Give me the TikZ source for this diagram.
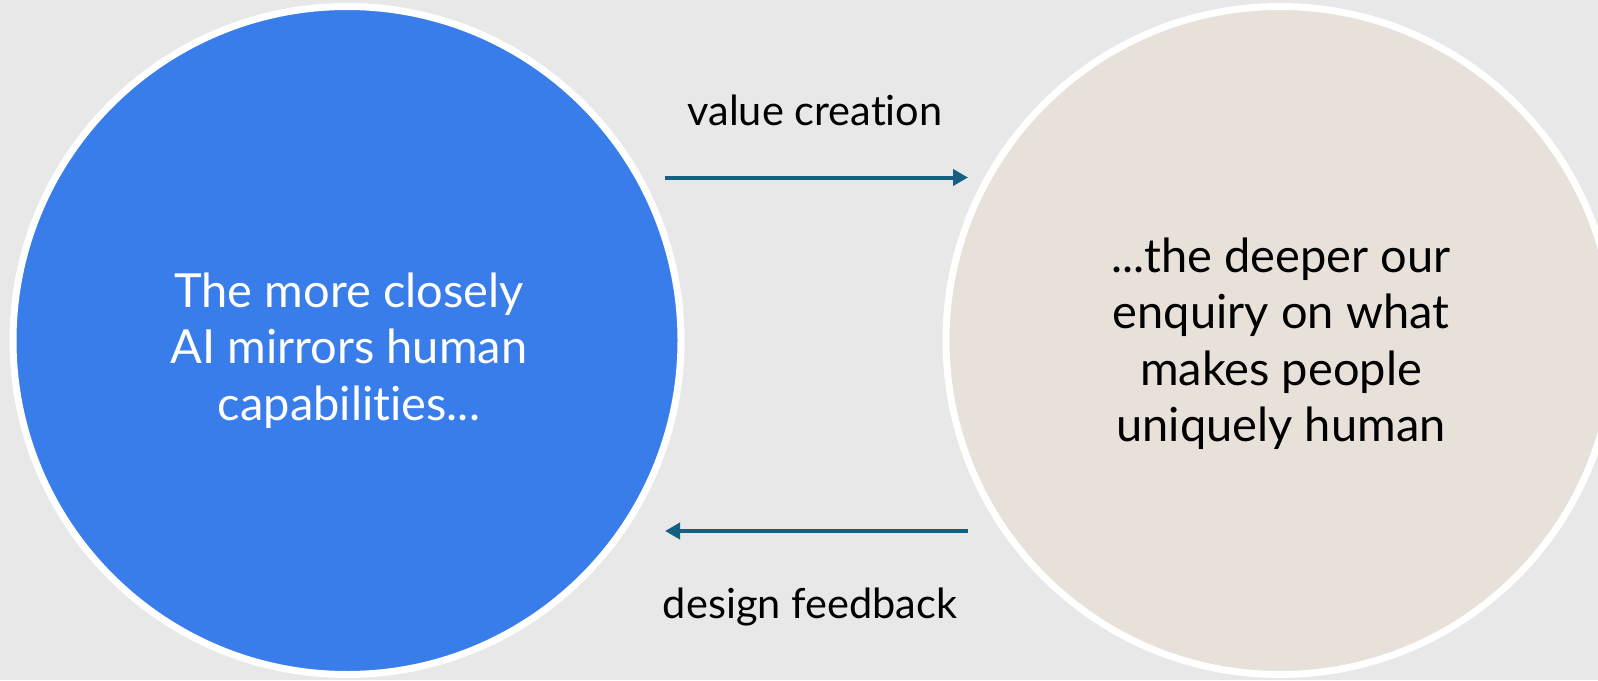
\documentclass[tikz,border=0pt]{standalone}
\usepackage{fontspec}
\setmainfont[Ligatures=NoCommon]{Lato}
\usetikzlibrary{arrows.meta}
\definecolor{bg}{HTML}{E8E8E8}
\definecolor{aiblue}{HTML}{397DEA}
\definecolor{beige}{HTML}{E8E1DA}
\definecolor{arrowc}{HTML}{156082}
\tikzset{
  bubble/.style={circle, draw=white, line width=7pt, minimum size=668pt, inner sep=0pt},
  bubbletext/.style={align=center, font=\fontsize{47}{56.5}\selectfont},
  flow/.style={draw=arrowc, line width=4pt, -{Triangle[length=15pt,width=16pt]}},
  flowlabel/.style={anchor=base, font=\fontsize{41.5}{48}\selectfont, text=black},
}
\begin{document}
\begin{tikzpicture}[x=1pt,y=-1pt]
  \useasboundingbox (0,0) rectangle (1598,680);
  \fill[bg] (0,0) rectangle (1598,680);
  \begin{scope}
    \clip (0,0) rectangle (1598,680);
    \node[bubble, fill=aiblue] (ai) at (347,340.5) {};
    \node[bubble, fill=beige] (human) at (1280,340.5) {};
  \end{scope}
  \node[bubbletext, text=white] (aitext) at (349,350.5) {The more closely\\AI mirrors human\\capabilities...};
  \node[bubbletext, text=black] (humantext) at (1281,343.5) {...the deeper our\\enquiry on what\\makes people\\uniquely human};
  \coordinate (v1) at (665,177.5);
  \coordinate (v2) at (968,177.5);
  \coordinate (d1) at (968,531);
  \coordinate (d2) at (665,531);
  \draw[flow] (v1) -- (v2);
  \draw[flow] (d1) -- (d2);
  \node[flowlabel] (vlabel) at (815,125) {value creation};
  \node[flowlabel] (dlabel) at (810,618) {design feedback};
\end{tikzpicture}
\end{document}
